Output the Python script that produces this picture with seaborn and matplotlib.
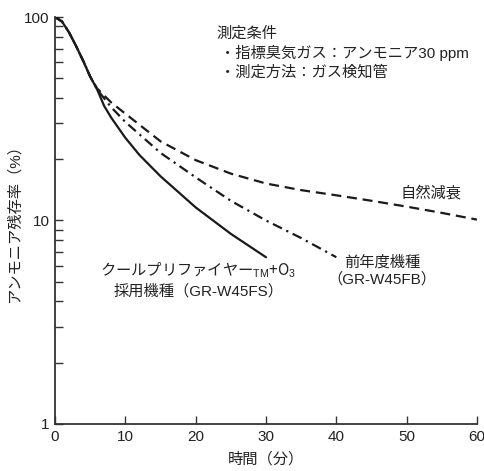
import matplotlib
matplotlib.use("Agg")
import matplotlib.pyplot as plt
import matplotlib.ticker as mticker
import pandas as pd
import seaborn as sns

# time (min) / remaining ammonia (%)
t_fs = [0, 1, 2, 3, 4, 5, 6, 7, 8, 10, 12, 15, 20, 25, 30]
v_fs = [100, 95, 84, 72, 61, 51, 44, 36.5, 32, 25.5, 21, 16.5, 11.6, 8.6, 6.6]

t_nat = [0, 1, 2, 3, 4, 5, 6, 8, 10, 15, 20, 25, 30, 35, 40, 45, 50, 55, 60]
v_nat = [100, 95, 84, 72, 61, 51, 44.5, 38, 33.5, 24.5, 19.8, 17, 15.2, 14.1, 13.3, 12.5, 11.7, 10.9, 10.1]

t_fb = [0, 1, 2, 3, 4, 5, 6, 8, 10, 15, 20, 25, 30, 35, 40]
v_fb = [100, 95, 84, 72, 61, 51, 44, 36, 30.5, 21.5, 16.3, 12.5, 10, 8.2, 6.6]

x_ticks = [0, 10, 20, 30, 40, 50, 60]
y_ticks = [1, 10, 100]
y_tick_labels = ["1", "10", "100"]

sns.set_theme(style="ticks")
plt.rcParams["font.family"] = ["Liberation Sans", "Noto Sans CJK JP", "DejaVu Sans"]
plt.rcParams["mathtext.fontset"] = "custom"
plt.rcParams["mathtext.rm"] = "Liberation Sans"
plt.rcParams["mathtext.it"] = "Liberation Sans"
plt.rcParams["axes.unicode_minus"] = False

df = pd.concat([
    pd.DataFrame({"t": t_fs, "v": v_fs, "kind": "fs"}),
    pd.DataFrame({"t": t_nat, "v": v_nat, "kind": "nat"}),
    pd.DataFrame({"t": t_fb, "v": v_fb, "kind": "fb"}),
])

fig = plt.figure(figsize=(4.84, 4.71), dpi=100)
ax = fig.add_axes([0.1136, 0.0998, 0.8719, 0.8641])

sns.lineplot(
    data=df, x="t", y="v", style="kind", color="#1a1a1a", linewidth=1.6,
    dashes={"fs": "", "nat": (4.5, 2.6), "fb": (4.5, 2.2, 1.0, 2.2)},
    legend=False, ax=ax,
)

ax.set_yscale("log")
ax.set_xlim(0, 60)
ax.set_ylim(1, 100)
ax.set_xticks(x_ticks)
ax.set_yticks(y_ticks, labels=y_tick_labels)
ax.yaxis.set_minor_locator(mticker.LogLocator(base=10, subs=range(2, 10)))
ax.yaxis.set_minor_formatter(mticker.NullFormatter())
ax.tick_params(which="both", direction="in", length=5.5, width=1, color="#333333",
               labelsize=11, labelcolor="#222222")
ax.tick_params(axis="x", pad=4)
ax.tick_params(axis="y", pad=4)
for s in ["top", "right"]:
    ax.spines[s].set_visible(False)
for s in ["left", "bottom"]:
    ax.spines[s].set_linewidth(1.3)
    ax.spines[s].set_color("#333333")

ax.set_xlabel("時間（分）", fontsize=11, color="#222222", labelpad=6)
ax.set_ylabel("アンモニア残存率（%）", fontsize=11, color="#222222", labelpad=2)

tc = "#222222"
fs = 11
ax.text(0.383, 0.96, "測定条件", transform=ax.transAxes, fontsize=fs, color=tc, va="center")
ax.text(0.39, 0.911, "・指標臭気ガス：アンモニア30 ppm", transform=ax.transAxes,
        fontsize=fs, color=tc, va="center")
ax.text(0.39, 0.865, "・測定方法：ガス検知管", transform=ax.transAxes,
        fontsize=fs, color=tc, va="center")

ax.text(0.89, 0.567, "自然減衰", transform=ax.transAxes, fontsize=fs, color=tc,
        ha="center", va="center")
ax.text(0.775, 0.376, "前年度機種\n（GR-W45FB）", transform=ax.transAxes, fontsize=fs,
        color=tc, ha="center", va="center", linespacing=1.25)
ax.text(0.34, 0.377, "クールプリファイヤー$_{\\mathrm{TM}}$+O$_{3}$",
        transform=ax.transAxes, fontsize=fs, color=tc, ha="center", va="center",
        family="Noto Sans CJK JP", math_fontfamily="custom")
ax.text(0.34, 0.327, "採用機種（GR-W45FS）", transform=ax.transAxes, fontsize=fs,
        color=tc, ha="center", va="center")

fig.savefig("out.png", dpi=100)
